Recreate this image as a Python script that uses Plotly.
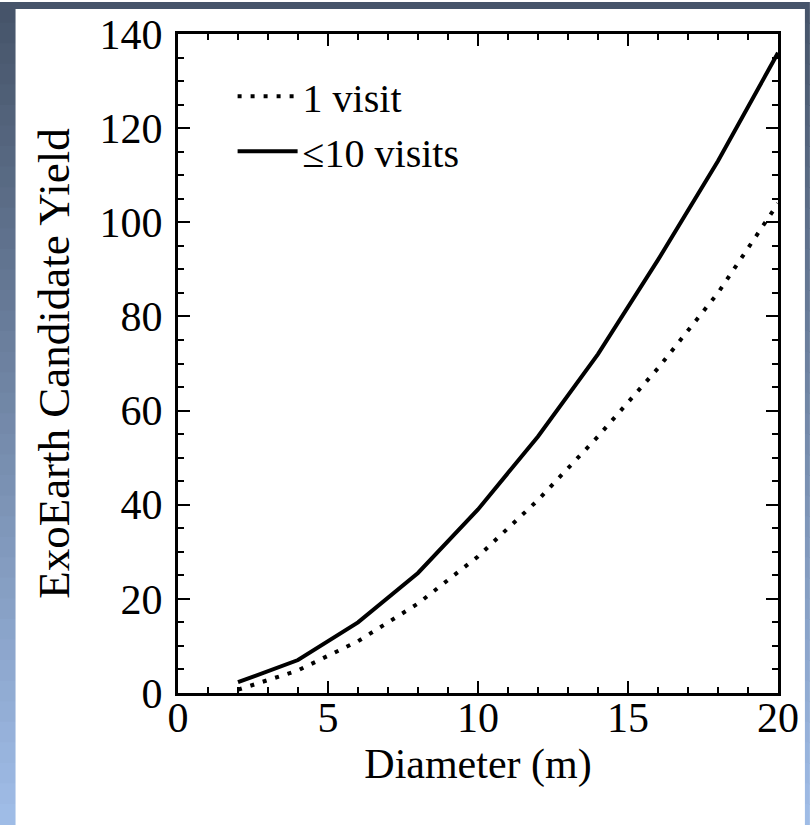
import plotly.graph_objects as go

# ---- data ----
diameters = [2, 4, 6, 8, 10, 12, 14, 16, 18, 20]
one_visit = [0.7, 4.8, 11, 19, 29, 41, 54.5, 69, 85, 104]
ten_visits = [2.3, 7, 15, 25.5, 39, 54.5, 72, 92, 113, 136]
series_names = ["1 visit", "\u226410 visits"]

W, H = 811, 825
L, R, T, B = 178, 31, 32, 132
pw, ph = W - L - R, H - T - B

def px(X):
    return (X - L) / pw

def py(Y):
    return (H - B - Y) / ph

fig = go.Figure()
fig.add_trace(go.Scatter(x=diameters, y=one_visit, mode="lines", name=series_names[0],
                         line=dict(color="black", width=4, dash="4px,9px")))
fig.add_trace(go.Scatter(x=diameters, y=ten_visits, mode="lines", name=series_names[1],
                         line=dict(color="black", width=4)))

# slide background gradient
top = (0x45, 0x53, 0x68)
bot = (0xa0, 0xbd, 0xe8)
n = 40
shapes = []
for i in range(n):
    y0 = i * H / n
    y1 = (i + 1) * H / n + 1
    f = (i + 0.5) / n
    c = tuple(int(round(top[k] + (bot[k] - top[k]) * f)) for k in range(3))
    shapes.append(dict(type="rect", xref="paper", yref="paper", layer="below",
                       x0=px(-1), x1=px(W + 1), y0=py(y1), y1=py(y0),
                       fillcolor="rgb(%d,%d,%d)" % c, line=dict(width=0)))
shapes.append(dict(type="rect", xref="paper", yref="paper", layer="below",
                   x0=px(15), x1=px(807), y0=py(H + 1), y1=py(7),
                   fillcolor="white", line=dict(width=0)))

serif = "Liberation Serif"

fig.update_layout(
    width=W, height=H,
    margin=dict(l=L, r=R, t=T, b=B),
    paper_bgcolor="white",
    plot_bgcolor="white",
    shapes=shapes,
    font=dict(family=serif, color="black", size=42),
    showlegend=True,
    legend=dict(x=0.091, y=0.955, xanchor="left", yanchor="top",
                bgcolor="rgba(0,0,0,0)", font=dict(size=40, family=serif, color="black"),
                tracegroupgap=0, itemwidth=60),
    xaxis=dict(range=[0, 20], dtick=5, tick0=0,
               ticks="inside", ticklen=12, tickwidth=2, tickcolor="black",
               minor=dict(dtick=1, ticks="inside", ticklen=6, tickwidth=2, tickcolor="black"),
               showline=True, linewidth=3, linecolor="black", mirror="allticks",
               showgrid=False, zeroline=False,
               tickfont=dict(size=42, family=serif), ticklabelstandoff=-14,
               title=dict(text="Diameter (m)", font=dict(size=42, family=serif), standoff=8)),
    yaxis=dict(range=[0, 140], dtick=20, tick0=0,
               ticks="inside", ticklen=12, tickwidth=2, tickcolor="black",
               minor=dict(dtick=5, ticks="inside", ticklen=6, tickwidth=2, tickcolor="black"),
               showline=True, linewidth=3, linecolor="black", mirror="allticks",
               showgrid=False, zeroline=False,
               tickfont=dict(size=42, family=serif), ticklabelstandoff=4,
               title=dict(text="ExoEarth Candidate Yield", font=dict(size=45, family=serif), standoff=16)),
)

fig.write_html("out.html")
